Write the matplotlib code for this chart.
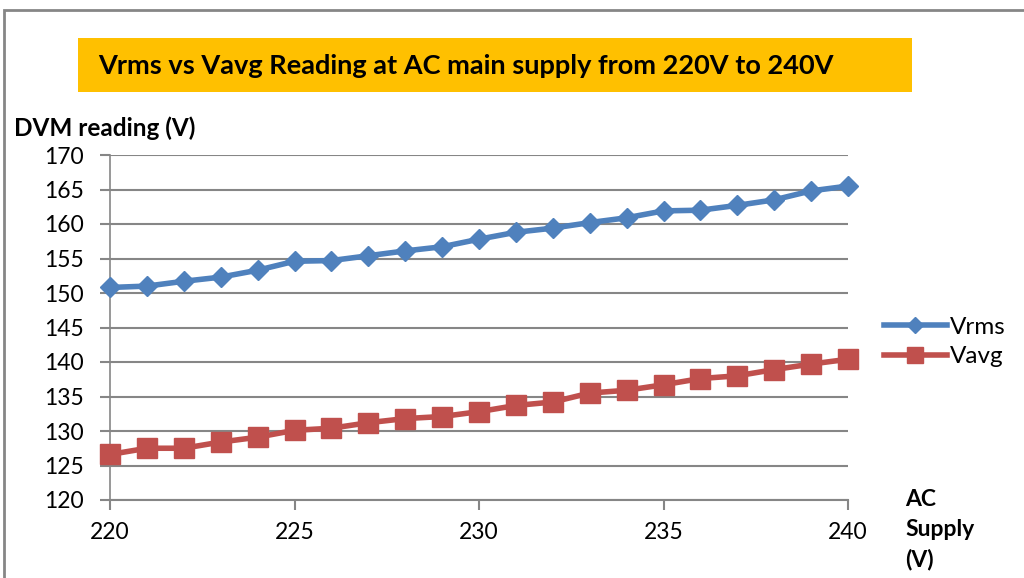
import matplotlib.pyplot as plt
from matplotlib.patches import Rectangle

supply = list(range(220, 241))
vrms = [150.8, 151.0, 151.7, 152.3, 153.3, 154.6, 154.7, 155.4, 156.1, 156.7, 157.8,
        158.8, 159.4, 160.2, 160.9, 161.9, 162.0, 162.7, 163.5, 164.8, 165.5]
vavg = [126.6, 127.5, 127.5, 128.4, 129.1, 130.1, 130.4, 131.2, 131.8, 132.1, 132.8,
        133.7, 134.2, 135.5, 135.9, 136.7, 137.6, 138.0, 138.9, 139.7, 140.4]
yticks = list(range(120, 171, 5))
xticks = [220, 225, 230, 235, 240]

plt.rcParams['font.family'] = ['Lato', 'DejaVu Sans']
grey = '#868686'

fig = plt.figure(figsize=(10.24, 5.78), dpi=100)
ax = fig.add_axes([110 / 1024, 1 - 500 / 578, 738 / 1024, 345 / 578])

# chart area frame
fig.patches.append(Rectangle((4 / 1024, -0.05), 1.1, 1 - 10 / 578 + 0.05, transform=fig.transFigure,
                             fill=False, edgecolor=grey, linewidth=2))
# title box
fig.patches.append(Rectangle((78 / 1024, 1 - 92 / 578), 834 / 1024, 54 / 578, transform=fig.transFigure,
                             facecolor='#FFC000', edgecolor='none'))
fig.text(98 / 1024, 1 - 66 / 578, 'Vrms vs Vavg Reading at AC main supply from 220V to 240V',
         fontsize=19.5, fontweight='bold', va='center', ha='left')

ax.plot(supply, vrms, color='#4F81BD', lw=4, marker='D', ms=10.5, mec='#4F81BD', label='Vrms',
        clip_on=False, zorder=4)
ax.plot(supply, vavg, color='#C0504D', lw=4, marker='s', ms=14, mec='#C0504D', label='Vavg',
        clip_on=False, zorder=3)

ax.set_xlim(220, 240)
ax.set_ylim(120, 170)
ax.set_yticks(yticks)
ax.set_xticks(xticks)
ax.grid(axis='y', color=grey, lw=1.5)
ax.set_axisbelow(True)
for s in ['top', 'right']:
    ax.spines[s].set_visible(False)
for s in ['left', 'bottom']:
    ax.spines[s].set_color(grey)
    ax.spines[s].set_linewidth(1.5)
ax.spines['left'].set_linewidth(1.2)
ax.tick_params(axis='both', colors=grey, labelcolor='black', labelsize=16.5, width=1.5, length=7)
ax.tick_params(axis='y', pad=12)
ax.tick_params(axis='x', pad=9)

fig.text(14 / 1024, 1 - 128 / 578, 'DVM reading (V)', fontsize=17.5, fontweight='bold', va='center')
fig.text(905 / 1024, 1 - 530 / 578, 'AC\nSupply\n(V)', fontsize=16.5, fontweight='bold',
         va='center', ha='left', linespacing=1.5)

fig.legend(loc='center left', bbox_to_anchor=(862 / 1024, 1 - 342 / 578), frameon=False,
           fontsize=17.5, handlelength=2.6, handletextpad=0.1, labelspacing=0.35, markerscale=0.8)

plt.savefig('out.png', dpi=100)
